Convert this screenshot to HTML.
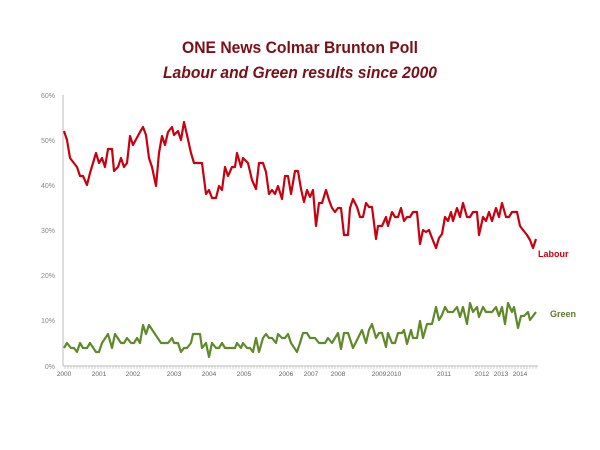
<!DOCTYPE html>
<html><head><style>body{margin:0;background:#fff}svg{display:block}</style></head><body>
<svg width="600" height="450" xmlns="http://www.w3.org/2000/svg" font-family="Liberation Sans, sans-serif">
<text x="300" y="53" text-anchor="middle" font-size="17" font-weight="bold" fill="#7a1016" textLength="236" lengthAdjust="spacingAndGlyphs">ONE News Colmar Brunton Poll</text>
<text x="300" y="78" text-anchor="middle" font-size="17" font-weight="bold" font-style="italic" fill="#7a1016" textLength="274" lengthAdjust="spacingAndGlyphs">Labour and Green results since 2000</text>
<g font-size="7" fill="#888" text-anchor="end">
<text x="55" y="98">60%</text><text x="55" y="143">50%</text><text x="55" y="188">40%</text><text x="55" y="233">30%</text><text x="55" y="278">20%</text><text x="55" y="323">10%</text><text x="55" y="369">0%</text>
</g>
<line x1="63" y1="95" x2="63" y2="366" stroke="#bbb" stroke-width="1"/>
<line x1="63" y1="366" x2="538" y2="366" stroke="#bbb" stroke-width="1"/>
<g stroke="#bbb" stroke-width="0.6">
<path d="M65 366v3M68 366v3M71 366v3M74 366v3M77 366v3M80 366v3M83 366v3M86 366v3M89 366v3M92 366v3M95 366v3M98 366v3M101 366v3M104 366v3M107 366v3M110 366v3M113 366v3M116 366v3M119 366v3M122 366v3M125 366v3M128 366v3M131 366v3M134 366v3M137 366v3M140 366v3M143 366v3M146 366v3M149 366v3M152 366v3M155 366v3M158 366v3M161 366v3M164 366v3M167 366v3M170 366v3M173 366v3M176 366v3M179 366v3M182 366v3M185 366v3M188 366v3M191 366v3M194 366v3M197 366v3M200 366v3M203 366v3M206 366v3M209 366v3M212 366v3M215 366v3M218 366v3M221 366v3M224 366v3M227 366v3M230 366v3M233 366v3M236 366v3M239 366v3M242 366v3M245 366v3M248 366v3M251 366v3M254 366v3M257 366v3M260 366v3M263 366v3M266 366v3M269 366v3M272 366v3M275 366v3M278 366v3M281 366v3M284 366v3M287 366v3M290 366v3M293 366v3M296 366v3M299 366v3M302 366v3M305 366v3M308 366v3M311 366v3M314 366v3M317 366v3M320 366v3M323 366v3M326 366v3M329 366v3M332 366v3M335 366v3M338 366v3M341 366v3M344 366v3M347 366v3M350 366v3M353 366v3M356 366v3M359 366v3M362 366v3M365 366v3M368 366v3M371 366v3M374 366v3M377 366v3M380 366v3M383 366v3M386 366v3M389 366v3M392 366v3M395 366v3M398 366v3M401 366v3M404 366v3M407 366v3M410 366v3M413 366v3M416 366v3M419 366v3M422 366v3M425 366v3M428 366v3M431 366v3M434 366v3M437 366v3M440 366v3M443 366v3M446 366v3M449 366v3M452 366v3M455 366v3M458 366v3M461 366v3M464 366v3M467 366v3M470 366v3M473 366v3M476 366v3M479 366v3M482 366v3M485 366v3M488 366v3M491 366v3M494 366v3M497 366v3M500 366v3M503 366v3M506 366v3M509 366v3M512 366v3M515 366v3M518 366v3M521 366v3M524 366v3M527 366v3M530 366v3M533 366v3M536 366v3"/>
</g>
<g font-size="6.5" fill="#666" text-anchor="middle">
<text x="64" y="376">2000</text><text x="99" y="376">2001</text><text x="133" y="376">2002</text><text x="174" y="376">2003</text><text x="209" y="376">2004</text><text x="244" y="376">2005</text><text x="286" y="376">2006</text><text x="311" y="376">2007</text><text x="338" y="376">2008</text><text x="379" y="376">2009</text><text x="394" y="376">2010</text><text x="444" y="376">2011</text><text x="482" y="376">2012</text><text x="501" y="376">2013</text><text x="520" y="376">2014</text>
</g>
<polyline fill="none" stroke="#c8000f" stroke-width="2.2" stroke-linejoin="round" points="64,131 67,140 70,158 77,167 80,176 83,176 87,185 90,173 96,153 99,163 102,158 105,167 108,149 112,149 114,171 118,167 121,158 124,167 127,163 130,136 133,145 140,132 143,127 146,135 149,158 152,167 156,186 159,153 162,136 165,145 168,132 172,127 174,135 178,131 181,140 184,122 187,135 191,153 194,163 202,163 206,194 209,190 212,198 216,198 219,186 222,190 225,167 228,176 232,167 235,167 237,153 241,167 243,158 248,163 252,180 256,189 259,163 263,163 266,172 269,194 272,190 275,194 278,186 282,199 285,176 288,176 291,194 295,171 298,171 301,189 304,202 307,190 310,197 313,190 316,226 319,203 322,203 326,190 329,200 332,208 335,212 338,208 341,208 344,235 348,235 350,208 353,199 357,207 360,217 363,217 366,203 369,207 372,207 376,239 378,226 382,226 386,217 388,226 392,212 395,217 398,217 401,208 404,221 407,217 410,217 413,212 417,212 420,244 423,230 426,232 429,230 432,238 436,248 439,238 442,234 445,217 448,221 451,212 453,221 457,208 460,217 463,203 467,217 470,217 473,212 477,212 479,235 483,217 486,221 489,212 492,221 496,208 499,217 502,203 506,217 509,217 512,212 517,212 520,226 523,230 527,235 530,240 533,248 536,239"/>
<polyline fill="none" stroke="#5f8a2a" stroke-width="2.2" stroke-linejoin="round" points="64,348 67,343 71,348 74,348 77,352 80,343 83,348 87,348 90,343 96,352 99,352 102,343 108,334 112,348 115,334 121,343 124,343 127,338 131,343 134,343 137,338 140,343 143,325 146,334 149,325 155,334 161,343 168,343 172,338 174,343 178,343 181,352 184,348 187,348 191,343 193,334 200,334 202,348 206,343 209,357 212,343 216,348 219,348 222,343 225,348 235,348 237,343 241,348 243,343 247,348 250,348 253,352 256,338 259,352 263,338 266,334 269,338 272,338 276,343 278,334 282,338 285,338 288,334 291,343 297,352 300,343 303,333 307,333 310,338 315,338 319,343 325,343 328,338 332,343 338,333 341,349 344,333 348,333 353,348 358,338 362,330 366,343 369,330 372,324 376,338 379,333 382,333 386,347 388,333 392,343 395,343 398,333 402,333 404,330 407,344 411,330 413,338 417,338 420,321 423,338 427,324 432,324 436,307 439,320 442,315 445,307 448,312 453,312 457,307 460,317 463,307 467,324 470,303 473,312 477,307 479,317 483,307 486,312 492,312 496,307 499,316 502,307 505,324 508,303 512,312 514,307 518,328 521,316 524,316 528,312 530,320 536,312"/>
<text x="538" y="257" font-size="9" font-weight="bold" fill="#c8000f">Labour</text>
<text x="550" y="317" font-size="9" font-weight="bold" fill="#5f7a2a">Green</text>
</svg>
</body></html>
